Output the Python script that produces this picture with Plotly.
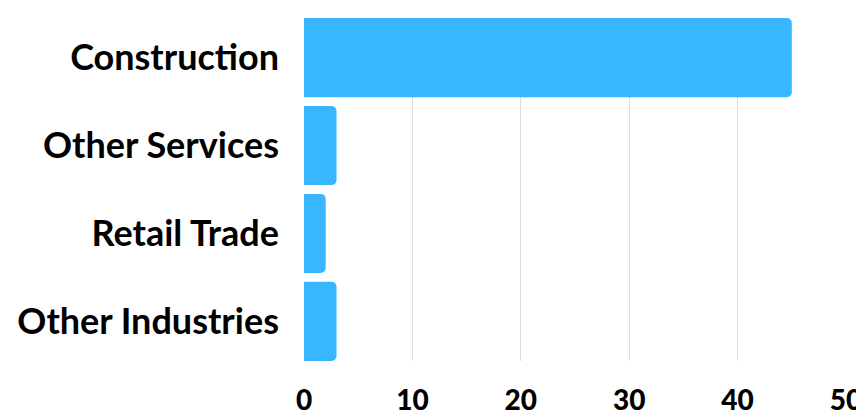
import plotly.graph_objects as go

categories = ["Construction", "Other Services", "Retail Trade", "Other Industries"]
values = [45, 3, 2, 3]
tick_vals = [0, 10, 20, 30, 40, 50]

fig = go.Figure(go.Bar(
    x=values,
    y=categories,
    orientation="h",
    marker=dict(color="#38B6FF", line=dict(width=0)),
    width=0.9,
))

# page body adds an 8px offset, so the figure is sized/margined to compensate
fig.update_layout(
    width=856, height=408,
    margin=dict(l=296, r=18, t=10, b=55),
    paper_bgcolor="white", plot_bgcolor="white",
    barcornerradius=5,
    showlegend=False,
)
fig.update_xaxes(
    range=[0, 50], tickvals=tick_vals,
    showgrid=True, gridcolor="#dddddd", gridwidth=1,
    zeroline=False, showline=False, automargin=False,
    tickfont=dict(family="Lato", size=28, color="#000000", weight=900),
    ticklabelstandoff=20,
)
fig.update_yaxes(
    categoryorder="array", categoryarray=categories[::-1],
    range=[-0.45, 3.45], automargin=False,
    showgrid=False, zeroline=False, showline=False,
    tickfont=dict(family="Lato", size=36, color="#000000", weight=700),
    ticklabelstandoff=24,
)

fig.write_html("out.html")
